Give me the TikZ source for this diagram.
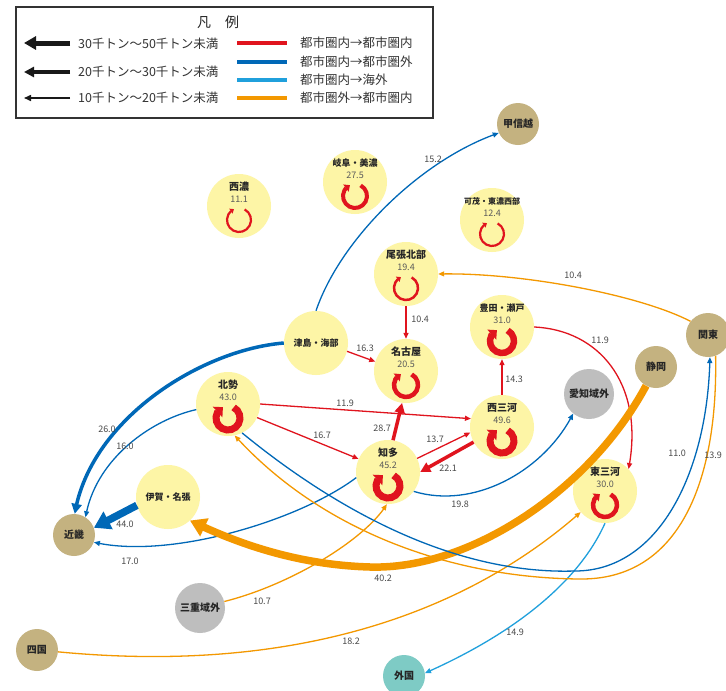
\documentclass[tikz,border=0pt]{standalone}
\usepackage{fontspec}
\setmainfont{Noto Sans CJK JP}
\usetikzlibrary{arrows.meta,bending}
\definecolor{cyel}{HTML}{FDF5A6}
\definecolor{ctan}{HTML}{C4B280}
\definecolor{cgray}{HTML}{BEBEBE}
\definecolor{cteal}{HTML}{7ECBC5}
\definecolor{cred}{HTML}{E0141E}
\definecolor{cblue}{HTML}{0068B7}
\definecolor{clblue}{HTML}{20A0DC}
\definecolor{corange}{HTML}{F39800}
\definecolor{ctxt}{HTML}{4A4A4A}
\definecolor{cnum}{HTML}{5A5A5A}
\tikzset{
  citynode/.style={circle, fill=cyel, minimum size=64pt, inner sep=0pt},
  extnode/.style={circle, inner sep=0pt, font=\bfseries\fontsize{10}{10}\selectfont, text=black!85},
  tannode/.style={extnode, fill=ctan, minimum size=42pt},
  graynode/.style={extnode, fill=cgray, minimum size=50pt},
  tealnode/.style={extnode, fill=cteal, minimum size=42pt},
  numtxt/.style={font=\fontsize{9}{9}\selectfont, text=cnum, inner sep=0pt},
  lbl/.style={font=\fontsize{9}{9}\selectfont, text=ctxt, inner sep=0pt},
  legtxt/.style={font=\fontsize{12.5}{12.5}\selectfont, text=black!80, anchor=west, inner sep=0pt},
  thinarr/.style={line width=1.3pt, -{Triangle[length=6pt,width=5pt]}},
  medarr/.style={line width=3.5pt, -{Triangle[length=10pt,width=10pt]}},
  thickarr/.style={line width=7.5pt, -{Triangle[length=16pt,width=19pt]}},
}
\newcommand\mkcity[7]{%
  \node[citynode] (#1) at (#2,#3) {};
  \node[font=\bfseries\fontsize{#7}{#7}\selectfont, inner sep=0pt, text=black!85] (#1-lab) at (#2,#3-19) {#4};
  \node[numtxt] (#1-num) at (#2,#3-7) {#5};
  \draw[cred, line width=#6pt, -{Triangle[length=2pt 0.75,width=2pt 1.7]}] (#2,#3+14) ++(-62:12) arc[start angle=-62,end angle=245,radius=12];
}
\begin{document}
\begin{tikzpicture}[x=1pt,y=-1pt]
\useasboundingbox (0,0) rectangle (726,691);
\fill[white] (0,0) rectangle (726,691);

% ---------- legend ----------
\draw[line width=1.2pt, draw=black!80] (16,7) rectangle (433,118);
\node[font=\fontsize{14}{14}\selectfont, text=black!85] (lgtitle) at (218,22) {凡\hspace{1em}例};
\coordinate (la1s) at (70,43); \coordinate (la1e) at (24,43);
\coordinate (la2s) at (70,72); \coordinate (la2e) at (24,72);
\coordinate (la3s) at (70,98); \coordinate (la3e) at (24,98);
\draw[black!90, line width=5pt, -{Triangle[length=12pt,width=13pt]}] (la1s) -- (la1e);
\draw[black!90, line width=3.2pt, -{Triangle[length=10pt,width=10pt]}] (la2s) -- (la2e);
\draw[black!90, line width=1.5pt, -{Triangle[length=7pt,width=6pt]}] (la3s) -- (la3e);
\node[legtxt] (lt1) at (78,44) {30千トン～50千トン未満};
\node[legtxt] (lt2) at (78,72) {20千トン～30千トン未満};
\node[legtxt] (lt3) at (78,98) {10千トン～20千トン未満};
\coordinate (lr1s) at (237,43); \coordinate (lr1e) at (287,43);
\coordinate (lr2s) at (237,62); \coordinate (lr2e) at (287,62);
\coordinate (lr3s) at (237,80); \coordinate (lr3e) at (287,80);
\coordinate (lr4s) at (237,98); \coordinate (lr4e) at (287,98);
\draw[cred, line width=4pt] (lr1s) -- (lr1e);
\draw[cblue, line width=4pt] (lr2s) -- (lr2e);
\draw[clblue, line width=4pt] (lr3s) -- (lr3e);
\draw[corange, line width=4pt] (lr4s) -- (lr4e);
\node[legtxt] (rt1) at (300,43) {都市圏内→都市圏内};
\node[legtxt] (rt2) at (300,62) {都市圏内→都市圏外};
\node[legtxt] (rt3) at (300,80) {都市圏内→海外};
\node[legtxt] (rt4) at (300,98) {都市圏外→都市圏内};

% ---------- nodes ----------
\mkcity{seino}{239}{206}{西濃}{11.1}{2.2}{10}
\mkcity{gifu}{355}{182}{岐阜・美濃}{27.5}{4}{9}
\mkcity{kamo}{492}{220}{可茂・東濃西部}{12.4}{2.2}{8}
\mkcity{owari}{406}{274}{尾張北部}{19.4}{2.5}{10}
\mkcity{nagoya}{406}{371}{名古屋}{20.5}{4.5}{10}
\mkcity{toyota}{502}{327}{豊田・瀬戸}{31.0}{6.5}{9}
\mkcity{hokusei}{228}{404}{北勢}{43.0}{7}{10}
\mkcity{nishi}{502}{427}{西三河}{49.6}{7}{10}
\mkcity{chita}{388}{472}{知多}{45.2}{7}{10}
\mkcity{higashi}{605}{491}{東三河}{30.0}{4.5}{10}
\node[citynode, font=\bfseries\fontsize{9}{9}\selectfont, text=black!85] (tsushima) at (316,343) {津島・海部};
\node[citynode, font=\bfseries\fontsize{9}{9}\selectfont, text=black!85] (iga) at (168,497) {伊賀・名張};
\node[tannode] (koshin) at (518,124) {甲信越};
\node[graynode] (aichi) at (589,394) {愛知域外};
\node[tannode] (shizuoka) at (656,367) {静岡};
\node[tannode, minimum size=44pt] (kanto) at (708,335) {関東};
\node[tannode] (kinki) at (74,535) {近畿};
\node[graynode] (mie) at (200,608) {三重域外};
\node[tannode] (shikoku) at (37,650) {四国};
\node[tealnode] (gaikoku) at (404,676) {外国};

% ---------- connectors ----------
\draw[thinarr, cblue] (tsushima.90) .. controls (340,240) and (420,160) .. (koshin.205);
\draw[medarr, cblue] (tsushima.180) .. controls (200,350) and (90,420) .. (kinki.88);
\draw[thinarr, cblue] (hokusei.190) .. controls (150,420) and (95,460) .. (kinki.57);
\draw[thickarr, cblue] (iga.195) -- (kinki.20);
\draw[thinarr, cblue] (chita.190) .. controls (300,520) and (170,560) .. (kinki.-20);
\draw[thinarr, cred] (tsushima.-15) -- (nagoya.163);
\draw[thinarr, cred] (owari.south) -- (nagoya.north);
\draw[thinarr, cred] (hokusei.0) -- (nishi.165);
\draw[thinarr, cred] (hokusei.-25) -- (chita.156);
\draw[medarr, cred] (chita.81) -- (nagoya.-97);
\draw[thinarr, cred] (chita.25) -- (nishi.190);
\draw[medarr, cred] (nishi.208) -- (chita.0);
\draw[thinarr, cred] (nishi.north) -- (toyota.south);
\draw[thinarr, cred] (toyota.0) .. controls (600,330) and (645,385) .. (higashi.43);
\draw[thinarr, cblue] (chita.-37) .. controls (475,510) and (545,470) .. (aichi.231);
\draw[thinarr, corange] (kanto.142) .. controls (640,295) and (520,272) .. (owari.0);
\draw[thickarr, corange] (shizuoka.242) .. controls (590,490) and (470,570) .. (370,567) .. controls (300,565) and (240,545) .. (iga.-47);
\draw[thinarr, corange] (mie.15) .. controls (290,585) and (365,540) .. (chita.-92);
\draw[thinarr, corange] (shikoku.-5) .. controls (300,675) and (470,610) .. (higashi.221);
\draw[thinarr, clblue] (higashi.-90) .. controls (575,590) and (500,640) .. (gaikoku.8);
\draw[thinarr, cblue] (hokusei.-64) .. controls (330,505) and (450,575) .. (575,571) .. controls (660,571) and (708,470) .. (kanto.-85);
\draw[thinarr, corange] (kanto.-70) .. controls (718,480) and (680,580) .. (580,579) .. controls (450,578) and (320,530) .. (hokusei.-78);

% ---------- connector labels ----------
\node[lbl] (l1) at (433,159) {15.2};
\node[lbl] (l2) at (107,429) {26.0};
\node[lbl] (l3) at (125,446) {16.0};
\node[lbl] (l4) at (125,524) {44.0};
\node[lbl] (l5) at (130,561) {17.0};
\node[lbl] (l6) at (365,348) {16.3};
\node[lbl] (l7) at (420,319) {10.4};
\node[lbl] (l8) at (345,403) {11.9};
\node[lbl] (l9) at (322,435) {16.7};
\node[lbl] (l10) at (382,428) {28.7};
\node[lbl] (l11) at (435,439) {13.7};
\node[lbl] (l12) at (448,468) {22.1};
\node[lbl] (l13) at (514,379) {14.3};
\node[lbl] (l14) at (600,340) {11.9};
\node[lbl] (l15) at (460,504) {19.8};
\node[lbl] (l16) at (573,275) {10.4};
\node[lbl] (l17) at (383,578) {40.2};
\node[lbl] (l18) at (262,601) {10.7};
\node[lbl] (l19) at (351,641) {18.2};
\node[lbl] (l20) at (515,632) {14.9};
\node[lbl] (l21) at (677,453) {11.0};
\node[lbl] (l22) at (713,455) {13.9};
\end{tikzpicture}
\end{document}
